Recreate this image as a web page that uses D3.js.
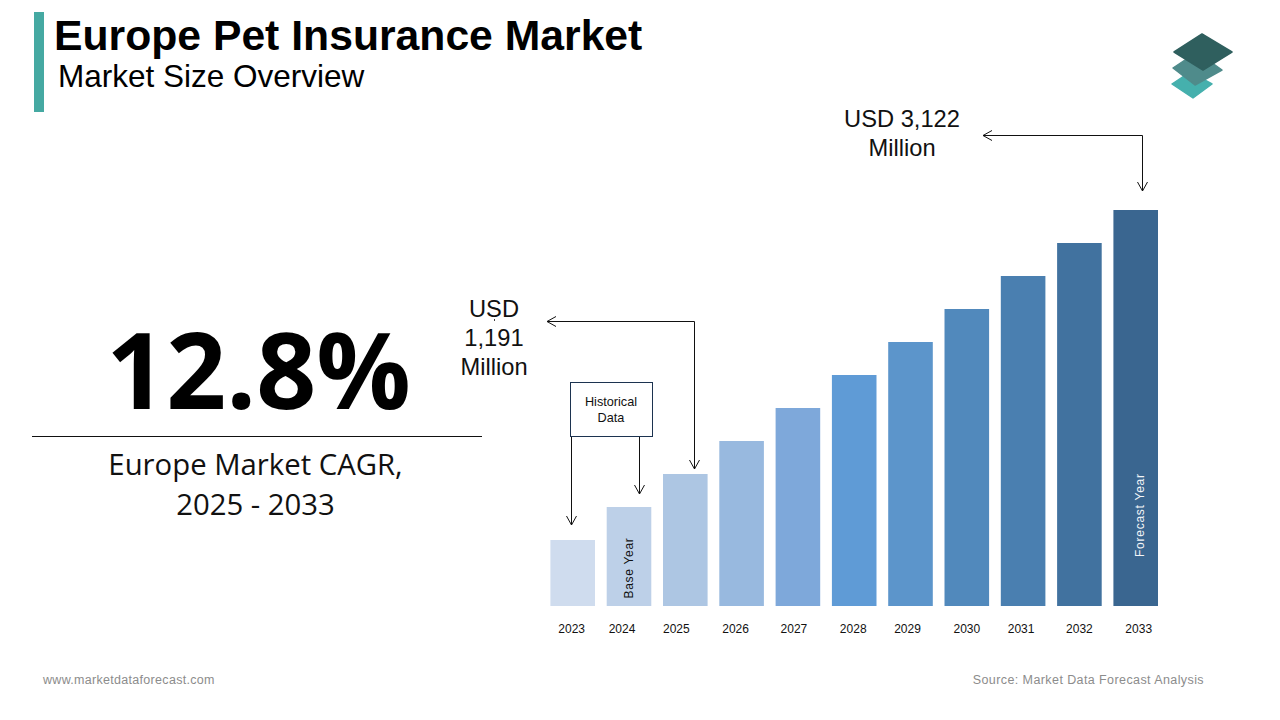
<!DOCTYPE html>
<html>
<head>
<meta charset="utf-8">
<script src="https://cdn.jsdelivr.net/npm/d3@7"></script>
<style>
  html, body { margin: 0; padding: 0; background: #fff; }
  svg { display: block; }
  text { font-family: "Liberation Sans", Arial, sans-serif; }
</style>
</head>
<body>
<svg id="container" width="1280" height="720"></svg>
<script>
(function () {

    const years = ['2023', '2024', '2025', '2026', '2027', '2028', '2029', '2030', '2031', '2032', '2033'];
    // bars are illustrative in the picture, so these are relative heights, not USD
    const barHeights = [2, 3, 4, 5, 6, 7, 8, 9, 10, 11, 12];
    const barColors = ['#cfdcee', '#bdd0e8', '#adc6e3', '#98b9df', '#7ea8da', '#5f9bd6',
        '#5c95cb', '#5189bc', '#4a7fb0', '#41729f', '#3a6690'];
    const tickNudge = [-1, -7, -9, -6, -4, -1, -3, 0, -2, 0, 3]; // labels sit off-centre in the original

    const svg = d3.select('#container');

    const x = d3.scaleBand().domain(years).range([550.4, 1158]).paddingInner(0.208);
    const y = d3.scaleLinear().domain([0, 12]).range([606, 210]);

    // header
    svg.append('rect').attr('x', 34).attr('y', 12).attr('width', 10).attr('height', 100).attr('fill', '#45a9a2');
    svg.append('text').attr('x', 54).attr('y', 50)
        .attr('font-size', 42.7).attr('font-weight', 700).attr('fill', '#000')
        .text('Europe Pet Insurance Market');
    svg.append('text').attr('x', 58).attr('y', 87)
        .attr('font-size', 31.5).attr('fill', '#000')
        .text('Market Size Overview');

    // logo, three stacked diamonds
    const logo = [
        { pts: [[1172, 84], [1190, 72], [1212, 84], [1193, 98]], fill: '#45b0ad' },
        { pts: [[1173, 68], [1197, 52], [1222, 70], [1195, 85]], fill: '#4f8b8b' },
        { pts: [[1202, 34], [1232, 52], [1203, 70], [1174, 52]], fill: '#2f5f5e' }
    ];
    svg.append('g').selectAll('path')
        .data(logo)
        .enter()
        .append('path')
        .attr('d', d => 'M' + d.pts.join('L') + 'Z')
        .attr('fill', d => d.fill)
        .attr('stroke', d => d.fill)
        .attr('stroke-width', 1.5)
        .attr('stroke-linejoin', 'round');

    // CAGR block
    svg.append('text').attr('x', 258.5).attr('y', 409).attr('text-anchor', 'middle')
        .style('font-family', '"Open Sans"')
        .attr('font-size', 105).attr('font-weight', 700).attr('fill', '#000')
        .text('12.8%');
    svg.append('line').attr('x1', 32).attr('x2', 482).attr('y1', 436.5).attr('y2', 436.5)
        .attr('stroke', '#111').attr('stroke-width', 1);
    svg.append('g').selectAll('text')
        .data(['Europe Market CAGR,', '2025 - 2033'])
        .enter()
        .append('text')
        .attr('x', 255.5)
        .attr('y', (d, i) => 475 + i * 40)
        .attr('text-anchor', 'middle')
        .style('font-family', '"Open Sans"')
        .attr('font-size', 29.3)
        .attr('fill', '#111')
        .text(d => d);

    // bars
    svg.append('g').selectAll('rect')
        .data(years)
        .enter()
        .append('rect')
        .attr('x', d => x(d))
        .attr('y', (d, i) => y(barHeights[i]))
        .attr('width', x.bandwidth())
        .attr('height', (d, i) => y(0) - y(barHeights[i]))
        .attr('fill', (d, i) => barColors[i]);

    // year labels
    const axis = svg.append('g')
        .attr('transform', 'translate(0,606)')
        .call(d3.axisBottom(x).tickSize(0).tickPadding(18));
    axis.select('.domain').remove();
    axis.selectAll('text')
        .style('font-family', '"Liberation Sans"')
        .attr('font-size', 12)
        .attr('fill', '#111')
        .attr('dx', (d, i) => tickNudge[i]);

    // rotated notes inside bars
    svg.append('text')
        .attr('transform', 'translate(633,598.5) rotate(-90)')
        .attr('font-size', 12).attr('letter-spacing', 0.7).attr('fill', '#111')
        .text('Base Year');
    svg.append('text')
        .attr('transform', 'translate(1144,557) rotate(-90)')
        .attr('font-size', 12).attr('letter-spacing', 0.75).attr('fill', '#f2f5f8')
        .text('Forecast Year');

    // callouts
    svg.append('g').selectAll('text')
        .data(['USD', '1,191', 'Million'])
        .enter()
        .append('text')
        .attr('x', 494)
        .attr('y', (d, i) => 317 + i * 29)
        .attr('text-anchor', 'middle')
        .attr('font-size', 23.7)
        .attr('fill', '#111')
        .text(d => d);
    svg.append('line').attr('x1', 494.5).attr('x2', 494.5).attr('y1', 319).attr('y2', 321)
        .attr('stroke', '#444').attr('stroke-width', 1);
    svg.append('g').selectAll('text')
        .data(['USD 3,122', 'Million'])
        .enter()
        .append('text')
        .attr('x', 902)
        .attr('y', (d, i) => 127 + i * 29)
        .attr('text-anchor', 'middle')
        .attr('font-size', 23.7)
        .attr('fill', '#111')
        .text(d => d);

    // historical data box
    svg.append('rect').attr('x', 570.5).attr('y', 382.5).attr('width', 82).attr('height', 54)
        .attr('fill', '#fff').attr('stroke', '#1c3350').attr('stroke-width', 1);
    svg.append('g').selectAll('text')
        .data(['Historical', 'Data'])
        .enter()
        .append('text')
        .attr('x', 611)
        .attr('y', (d, i) => 406 + i * 16)
        .attr('text-anchor', 'middle')
        .attr('font-size', 12.7)
        .attr('fill', '#111')
        .text(d => d);

    // open arrow heads
    svg.append('defs').append('marker')
        .attr('id', 'open')
        .attr('viewBox', '-10 -6 11 12')
        .attr('refX', 0).attr('refY', 0)
        .attr('markerWidth', 11).attr('markerHeight', 12)
        .attr('markerUnits', 'userSpaceOnUse')
        .attr('orient', 'auto-start-reverse')
        .append('path')
        .attr('d', 'M-9,-5L0,0L-9,5')
        .attr('fill', 'none')
        .attr('stroke', '#111')
        .attr('stroke-width', 1);

    const arrows = [
        { d: 'M547,321.5H694.5V469', start: true },
        { d: 'M983,135.5H1142.5V191', start: true },
        { d: 'M571.5,437V525', start: false },
        { d: 'M639.5,437V494', start: false }
    ];
    svg.append('g').selectAll('path')
        .data(arrows)
        .enter()
        .append('path')
        .attr('d', d => d.d)
        .attr('fill', 'none')
        .attr('stroke', '#111')
        .attr('stroke-width', 1)
        .attr('marker-end', 'url(#open)')
        .attr('marker-start', d => d.start ? 'url(#open)' : null);

    // footer
    svg.append('text').attr('x', 43).attr('y', 684)
        .attr('font-size', 12.5).attr('letter-spacing', 0.3).attr('fill', '#8c8c8c')
        .text('www.marketdataforecast.com');
    svg.append('text').attr('x', 1204).attr('y', 684).attr('text-anchor', 'end')
        .attr('font-size', 12.5).attr('letter-spacing', 0.41).attr('fill', '#8c8c8c')
        .text('Source: Market Data Forecast Analysis');

})();
</script>
</body>
</html>
